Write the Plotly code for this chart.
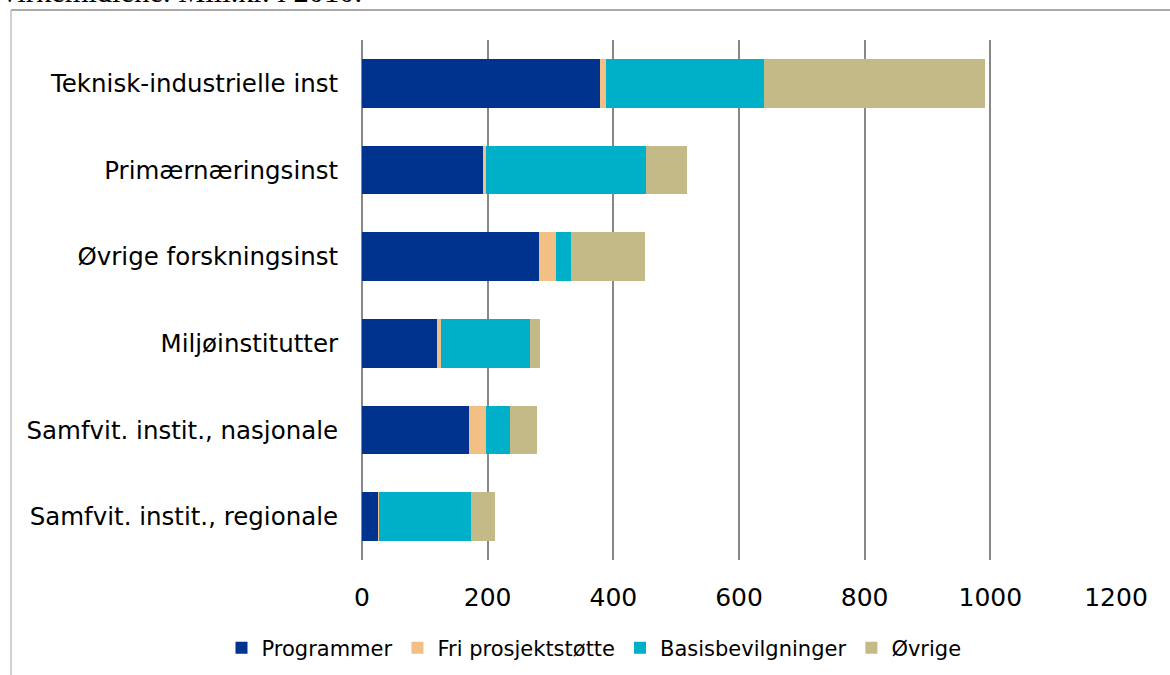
import plotly.graph_objects as go

categories = [
    "Teknisk-industrielle inst",
    "Primærnæringsinst",
    "Øvrige forskningsinst",
    "Miljøinstitutter",
    "Samfvit. instit., nasjonale",
    "Samfvit. instit., regionale",
]
series_names = ["Programmer", "Fri prosjektstøtte", "Basisbevilgninger", "Øvrige"]
programmer = [379, 192, 282, 120, 170, 26]
fri_prosjektstotte = [9, 5, 27, 5, 28, 1]
basisbevilgninger = [252, 255, 23, 143, 37, 146]
ovrige = [351, 65, 119, 16, 43, 38]
colors = ["#00338D", "#F2BF84", "#00B0C9", "#C4BA88"]
x_ticks = [0, 200, 400, 600, 800, 1000, 1200]
title_text = "virkemidlene. Mill.kr. i 2010."

FONT = "Verdana, DejaVu Sans, sans-serif"

W, H = 1170, 675
PL, PR, PT, PB = 362, 1116, 40, 560   # plot area in page pixels
L, T = PL, PT
R, B = W - PR, H - PB
pw = PR - PL
ph = PB - PT

def px(x):
    return (x - PL) / pw

def py(y):
    return (PB - y) / ph

fig = go.Figure()
for name, vals, col in zip(series_names,
                           [programmer, fri_prosjektstotte, basisbevilgninger, ovrige],
                           colors):
    fig.add_trace(go.Bar(
        y=categories, x=vals, name=name, orientation="h",
        marker=dict(color=col, line=dict(width=0)),
    ))

fig.update_layout(
    width=W, height=H,
    margin=dict(l=L, r=R, t=T, b=B, autoexpand=False),
    barmode="stack",
    bargap=0.435,
    plot_bgcolor="white",
    paper_bgcolor="white",
    font=dict(family=FONT, color="#000000"),
    legend=dict(
        orientation="h", x=px(594), y=py(648), xanchor="center", yanchor="middle",
        font=dict(size=21, family=FONT, color="#000000"),
        traceorder="normal", itemclick=False,
    ),
    xaxis=dict(
        range=[0, 1200], tickvals=x_ticks, ticktext=[str(v) for v in x_ticks],
        showgrid=True, gridcolor="#888888", gridwidth=1.5,
        zeroline=True, zerolinecolor="#888888", zerolinewidth=1.5,
        showline=False,
        ticks="outside", ticklen=15, tickcolor="rgba(0,0,0,0)",
        tickfont=dict(size=25, family=FONT, color="#000000"),
        fixedrange=True,
    ),
    yaxis=dict(
        autorange="reversed", showgrid=False, showline=False, zeroline=False,
        ticks="outside", ticklen=18, tickcolor="rgba(0,0,0,0)",
        tickfont=dict(size=24.5, family=FONT, color="#000000"),
        fixedrange=True,
    ),
    shapes=[
        dict(type="line", xref="paper", yref="paper",
             x0=px(11), x1=px(1175), y0=py(10), y1=py(10),
             line=dict(color="#8c8c8c", width=1.5)),
        dict(type="line", xref="paper", yref="paper",
             x0=px(11), x1=px(11), y0=py(10), y1=py(680),
             line=dict(color="#c0c0c0", width=1.5)),
    ],
    annotations=[
        dict(text=title_text, xref="paper", yref="paper",
             x=px(0), y=py(-8.5), xanchor="left", yanchor="middle",
             showarrow=False,
             font=dict(family="Liberation Serif, Times New Roman, serif", size=30.5, color="#000000")),
    ],
)

fig.write_html("out.html", config={"displayModeBar": False},
               post_script="document.body.style.margin='0';")
